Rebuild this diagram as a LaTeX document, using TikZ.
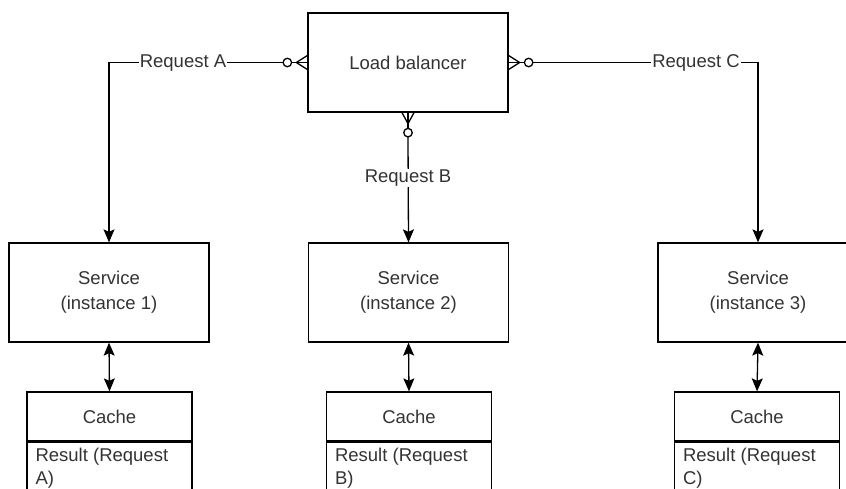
\documentclass[tikz,border=0pt]{standalone}
\usepackage{fontspec}
\setmainfont{Liberation Sans}
\usetikzlibrary{arrows.meta,calc}
\definecolor{txt}{HTML}{333333}
\begin{document}
\begin{tikzpicture}[x=1pt,y=-1pt,
  every node/.style={text=txt, font=\fontsize{18.5}{25}\selectfont},
  box/.style={draw=black, line width=1.3pt, minimum width=200pt, minimum height=99pt, align=center, inner sep=0pt},
  cachehead/.style={draw=black, line width=1.3pt, minimum width=165pt, minimum height=49pt, inner sep=0pt},
  cachebody/.style={draw=black, line width=1.3pt, minimum width=165pt, minimum height=80pt, anchor=north, inner sep=0pt},
  bodytext/.style={anchor=north west, align=left, inner sep=0pt, font=\fontsize{18.5}{23}\selectfont},
  conn/.style={draw=black, line width=1.3pt},
  tip/.style={-{Stealth[length=13pt,width=11pt,inset=2.5pt]}},
  both/.style={{Stealth[length=13pt,width=11pt,inset=2.5pt]}-{Stealth[length=13pt,width=11pt,inset=2.5pt]}},
  lbl/.style={fill=white, inner sep=1pt},
  ring/.style={draw=black, line width=1.3pt, fill=white, circle, minimum size=8.5pt, inner sep=0pt}]
\useasboundingbox (0,0) rectangle (846,488);
\clip (0,0) rectangle (846,488);

% boxes
\node[box] (lb) at (408,62.5) {Load balancer};
\node[box] (s1) at (109,292.5) {Service\\(instance 1)};
\node[box] (s2) at (408.5,292.5) {Service\\(instance 2)};
\node[box] (s3) at (758,292.5) {Service\\(instance 3)};

% caches: header and result compartment
\node[cachehead] (c1h) at (109.5,416.5) {Cache};
\node[cachebody] (c1b) at (c1h.south) {};
\node[bodytext] (r1) at ($(c1b.north west)+(9,6)$) {Result (Request\\A)};
\node[cachehead] (c2h) at (409,416.5) {Cache};
\node[cachebody] (c2b) at (c2h.south) {};
\node[bodytext] (r2) at ($(c2b.north west)+(9,6)$) {Result (Request\\B)};
\node[cachehead] (c3h) at (757,416.5) {Cache};
\node[cachebody] (c3b) at (c3h.south) {};
\node[bodytext] (r3) at ($(c3b.north west)+(9,6)$) {Result (Request\\C)};

% request connectors
\coordinate (ra) at ($(lb.west)+(-24,0)$);
\coordinate (rc) at ($(lb.east)+(24,0)$);
\coordinate (rb) at ($(lb.south)+(0,24)$);
\draw[conn,tip] (ra) -| (s1.north);
\draw[conn,tip] (rc) -| (s3.north);
\draw[conn,tip] (rb) -- (s2.north);

% zero-or-many ends at the load balancer
\draw[conn] (lb.west) -- ++(-16,0);
\draw[conn] ($(lb.west)+(-11,0)$) -- ($(lb.west)+(0,-7)$);
\draw[conn] ($(lb.west)+(-11,0)$) -- ($(lb.west)+(0,7)$);
\node[ring] (oa) at ($(lb.west)+(-20,0)$) {};

\draw[conn] (lb.east) -- ++(16,0);
\draw[conn] ($(lb.east)+(11,0)$) -- ($(lb.east)+(0,-7)$);
\draw[conn] ($(lb.east)+(11,0)$) -- ($(lb.east)+(0,7)$);
\node[ring] (oc) at ($(lb.east)+(20,0)$) {};

\draw[conn] (lb.south) -- ++(0,16);
\draw[conn] ($(lb.south)+(0,11)$) -- ($(lb.south)+(-6,0)$);
\draw[conn] ($(lb.south)+(0,11)$) -- ($(lb.south)+(6,0)$);
\node[ring] (ob) at ($(lb.south)+(0,20)$) {};

% labels
\node[lbl] (la) at (183,63) {Request A};
\node[lbl] (lc) at (696,63) {Request C};
\node[lbl] (lbb) at (408,178) {Request B};

% service to cache
\draw[conn,both] (s1.south) -- (c1h.north);
\draw[conn,both] (s2.south) -- (c2h.north);
\draw[conn,both] (s3.south) -- (c3h.north);
\end{tikzpicture}
\end{document}
